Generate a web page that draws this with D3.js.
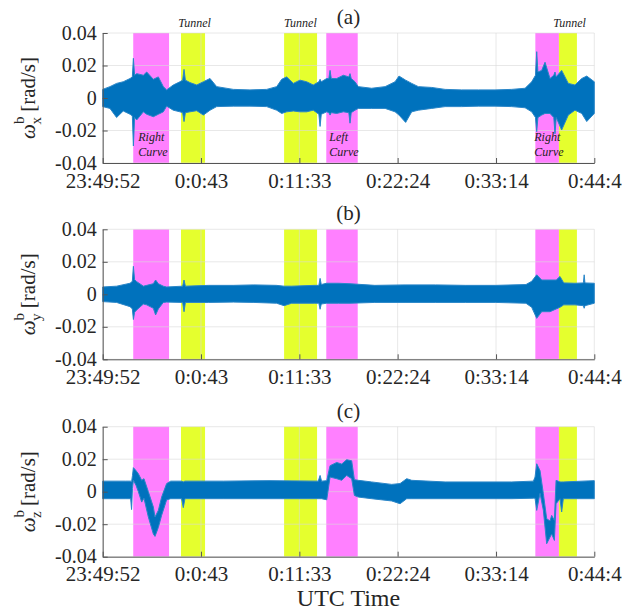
<!DOCTYPE html>
<html>
<head>
<meta charset="utf-8">
<script src="https://cdn.jsdelivr.net/npm/d3@7"></script>
<style>
  body { margin: 0; background: #fff; }
  svg text { font-family: "Liberation Serif", "DejaVu Serif", "Times New Roman", serif !important; }
</style>
</head>
<body>
<svg></svg>
<script>
// time axis, seconds since 23:49:52
const tickTimes = [0, 650, 1301, 1951, 2602, 3252];
const tickLabels = ["23:49:52", "0:0:43", "0:11:33", "0:22:24", "0:33:14", "0:44:4"];
const yTicks = [-0.04, -0.02, 0, 0.02, 0.04];
const yTickLabels = ["-0.04", "-0.02", "0", "0.02", "0.04"];

// shaded events [start, end] in seconds
const curveBands = [[202, 439], [1479, 1687], [2862, 3018]];
const tunnelBands = [[518, 677], [1200, 1418], [3018, 3137]];
const tunnelLabelTimes = [608, 1308, 3088];
const curveLabels = [["Right", "Curve", 235], ["Left", "Curve", 1499], ["Right", "Curve", 2855]];

// envelope of the gyro signal, rad/s
const timeA = [0, 48, 92, 136, 181, 196, 203, 211, 225, 269, 291, 335, 368, 401, 423, 467, 511, 529, 538, 547, 577, 622, 666, 710, 754, 864, 974, 1085, 1151, 1184, 1217, 1261, 1305, 1349, 1393, 1430, 1438, 1446, 1482, 1496, 1504, 1512, 1548, 1592, 1628, 1636, 1644, 1669, 1691, 1779, 1868, 1934, 1960, 2004, 2044, 2088, 2176, 2265, 2375, 2485, 2595, 2706, 2794, 2838, 2863, 2871, 2879, 2904, 2926, 2959, 2984, 2992, 3000, 3036, 3080, 3124, 3169, 3202, 3252];
const upperA = [0.0053, 0.007, 0.009, 0.010, 0.012, 0.013, 0.0244, 0.014, 0.015, 0.014, 0.016, 0.0115, 0.013, 0.007, 0.005, 0.008, 0.010, 0.011, 0.0176, 0.011, 0.0095, 0.008, 0.010, 0.012, 0.007, 0.0053, 0.005, 0.0053, 0.007, 0.0115, 0.013, 0.009, 0.011, 0.010, 0.008, 0.010, 0.0115, 0.010, 0.012, 0.012, 0.017, 0.012, 0.012, 0.014, 0.013, 0.015, 0.012, 0.010, 0.007, 0.006, 0.007, 0.010, 0.0135, 0.011, 0.009, 0.007, 0.0065, 0.0053, 0.005, 0.005, 0.005, 0.0053, 0.006, 0.010, 0.014, 0.0285, 0.016, 0.017, 0.022, 0.012, 0.014, 0.016, 0.013, 0.017, 0.009, 0.008, 0.012, 0.0135, 0.010];
const lowerA = [-0.0053, -0.0064, -0.012, -0.008, -0.010, -0.011, -0.0295, -0.012, -0.0135, -0.0085, -0.010, -0.0115, -0.010, -0.0085, -0.005, -0.0075, -0.0085, -0.009, -0.0145, -0.009, -0.0085, -0.0078, -0.0105, -0.0075, -0.0053, -0.005, -0.005, -0.0053, -0.0075, -0.0095, -0.0085, -0.008, -0.0085, -0.0085, -0.0075, -0.010, -0.0175, -0.010, -0.0085, -0.009, -0.0105, -0.009, -0.0095, -0.0085, -0.009, -0.0155, -0.009, -0.0075, -0.0064, -0.0064, -0.0064, -0.0085, -0.0105, -0.015, -0.0085, -0.0075, -0.0064, -0.0053, -0.0053, -0.005, -0.005, -0.0053, -0.006, -0.0085, -0.012, -0.0207, -0.012, -0.0105, -0.0095, -0.0095, -0.012, -0.022, -0.012, -0.0197, -0.0105, -0.0075, -0.0095, -0.0145, -0.0095];

const timeB = [0, 92, 181, 196, 203, 211, 225, 269, 291, 335, 350, 368, 401, 423, 529, 538, 547, 700, 864, 1000, 1150, 1200, 1250, 1400, 1430, 1438, 1446, 1480, 1560, 1636, 1800, 2000, 2200, 2400, 2600, 2800, 2838, 2871, 2904, 2959, 3000, 3025, 3050, 3124, 3180, 3185, 3190, 3252];
const upperB = [0.0045, 0.005, 0.0068, 0.008, 0.0172, 0.009, 0.0078, 0.005, 0.0055, 0.0065, 0.0088, 0.0065, 0.005, 0.0045, 0.005, 0.0088, 0.005, 0.0055, 0.0055, 0.0058, 0.0055, 0.005, 0.005, 0.0055, 0.0055, 0.0098, 0.006, 0.0068, 0.0068, 0.0065, 0.0055, 0.0058, 0.0058, 0.0055, 0.0055, 0.006, 0.008, 0.012, 0.0088, 0.0088, 0.0088, 0.011, 0.007, 0.0068, 0.007, 0.012, 0.007, 0.0068];
const lowerB = [-0.0045, -0.005, -0.0076, -0.009, -0.0155, -0.011, -0.0096, -0.006, -0.0065, -0.0086, -0.0127, -0.009, -0.005, -0.0048, -0.005, -0.0107, -0.005, -0.005, -0.0048, -0.005, -0.0055, -0.007, -0.0055, -0.0055, -0.0055, -0.0092, -0.006, -0.0055, -0.0055, -0.0055, -0.005, -0.005, -0.005, -0.005, -0.005, -0.0055, -0.008, -0.0148, -0.0107, -0.0107, -0.009, -0.008, -0.0065, -0.0065, -0.007, -0.0086, -0.007, -0.0055];

const timeC = [0, 150, 185, 191, 197, 203, 220, 236, 258, 273, 302, 335, 346, 368, 390, 423, 450, 522, 533, 544, 800, 1100, 1426, 1438, 1448, 1482, 1504, 1548, 1581, 1614, 1647, 1665, 1691, 1779, 1912, 1967, 2011, 2044, 2265, 2706, 2849, 2860, 2871, 2893, 2915, 2937, 2959, 2970, 2988, 2999, 3025, 3036, 3047, 3252];
const upperC = [0.0065, 0.0065, 0.0065, 0.006, 0.010, 0.0148, 0.013, 0.011, 0.007, 0.008, 0.000, -0.0094, -0.0156, -0.0115, -0.0033, 0.005, 0.0065, 0.0065, 0.006, 0.0065, 0.0065, 0.0068, 0.0065, 0.010, 0.0065, 0.0068, 0.016, 0.018, 0.017, 0.0197, 0.019, 0.0074, 0.007, 0.006, 0.0045, 0.005, 0.008, 0.007, 0.006, 0.006, 0.0065, 0.009, 0.0172, 0.013, -0.0012, -0.0166, -0.018, -0.0146, -0.0176, 0.007, 0.006, 0.006, 0.006, 0.0068];
const lowerC = [-0.0043, -0.0043, -0.0043, -0.011, 0.002, 0.007, 0.004, 0.000, -0.0064, -0.004, -0.0156, -0.026, -0.0275, -0.022, -0.0145, -0.005, -0.0043, -0.0043, -0.0098, -0.0043, -0.0043, -0.0043, -0.0043, -0.0043, -0.0043, -0.005, 0.009, 0.008, 0.007, 0.010, 0.008, -0.0023, -0.0033, -0.0043, -0.0057, -0.0074, -0.0043, -0.0043, -0.0043, -0.0043, -0.004, -0.004, -0.0115, -0.001, -0.0115, -0.032, -0.028, -0.026, -0.030, -0.0074, -0.0043, -0.0125, -0.0043, -0.0043];

const panels = [
  { title: "(a)", sub: "x", top: 33, t: timeA, hi: upperA, lo: lowerA, labels: true },
  { title: "(b)", sub: "y", top: 229.3, t: timeB, hi: upperB, lo: lowerB, labels: false },
  { title: "(c)", sub: "z", top: 426.7, t: timeC, hi: upperC, lo: lowerC, labels: false }
];

const width = 622, height = 614;
const plotH = 130;
const serif = '"Liberation Serif", "DejaVu Serif", serif';
const svg = d3.select('svg').attr('width', width).attr('height', height);

const x = d3.scaleLinear().domain([0, 3252]).range([102.7, 594.3]);

panels.forEach(p => {
  const y = d3.scaleLinear().domain([-0.04, 0.04]).range([p.top + plotH, p.top]);
  const g = svg.append('g').style('font-family', serif);

  g.selectAll('rect.curve').data(curveBands).enter().append('rect')
    .attr('x', d => x(d[0])).attr('width', d => x(d[1]) - x(d[0]))
    .attr('y', p.top).attr('height', plotH)
    .attr('fill', '#ff80ff');
  g.selectAll('rect.tunnel').data(tunnelBands).enter().append('rect')
    .attr('x', d => x(d[0])).attr('width', d => x(d[1]) - x(d[0]))
    .attr('y', p.top).attr('height', plotH)
    .attr('fill', '#e5ff2e');

  // grid
  g.selectAll('line.gx').data(tickTimes).enter().append('line')
    .attr('x1', d => x(d)).attr('x2', d => x(d))
    .attr('y1', p.top).attr('y2', p.top + plotH)
    .attr('stroke', '#d8d8d8').attr('stroke-opacity', 0.6);
  g.selectAll('line.gy').data(yTicks).enter().append('line')
    .attr('x1', x(0)).attr('x2', x(3252))
    .attr('y1', d => y(d)).attr('y2', d => y(d))
    .attr('stroke', '#d8d8d8').attr('stroke-opacity', 0.6);

  if (p.labels) {
    curveLabels.forEach(c => {
      const t = g.append('text')
        .attr('x', x(c[2])).attr('y', p.top + 108)
        .attr('font-size', 12).attr('font-style', 'italic').attr('fill', '#222');
      t.append('tspan').text(c[0]);
      t.append('tspan').attr('x', x(c[2])).attr('dy', 15).text(c[1]);
    });
  }

  const rows = p.t.map((t, i) => [t, p.hi[i], p.lo[i]]);
  g.append('path')
    .datum(rows)
    .attr('d', d3.area().x(d => x(d[0])).y0(d => y(d[2])).y1(d => y(d[1])))
    .attr('fill', '#0072bd')
    .attr('stroke', '#2a86c8').attr('stroke-width', 1).attr('stroke-linejoin', 'round');

  // axes
  const yAxis = d3.axisLeft(y).tickValues(yTicks).tickFormat((d, i) => yTickLabels[i])
    .tickSizeInner(-5).tickSizeOuter(0).tickPadding(6);
  const ya = g.append('g').attr('transform', `translate(${x(0)},0)`).call(yAxis);
  const xAxis = d3.axisBottom(x).tickValues(tickTimes).tickFormat((d, i) => tickLabels[i])
    .tickSizeInner(-5).tickSizeOuter(0).tickPadding(9);
  const xa = g.append('g').attr('transform', `translate(0,${p.top + plotH})`).call(xAxis);
  [ya, xa].forEach(a => {
    a.attr('font-family', null);
    a.select('.domain').attr('stroke', '#555');
    a.selectAll('.tick line').attr('stroke', '#555');
    a.selectAll('.tick text').attr('fill', '#262626').style('font-family', serif);
  });
  ya.selectAll('.tick text').attr('font-size', 20).attr('dy', '0.3em');
  xa.selectAll('.tick text').attr('font-size', 21).attr('dy', '0.75em');

  // title
  g.append('text').attr('x', (x(0) + x(3252)) / 2).attr('y', p.top - 9)
    .attr('text-anchor', 'middle').attr('font-size', 21).attr('fill', '#262626').text(p.title);

  // y label
  const yl = g.append('text')
    .attr('transform', `translate(35,${p.top + plotH / 2}) rotate(-90)`)
    .attr('text-anchor', 'middle').attr('font-size', 21).attr('fill', '#262626');
  yl.append('tspan').attr('font-style', 'italic').text('ω');
  yl.append('tspan').attr('font-size', 15).attr('dy', -11).text('b');
  yl.append('tspan').attr('font-size', 15).attr('dx', -8).attr('dy', 17).text(p.sub);
  yl.append('tspan').attr('dy', -6).text(' [rad/s]');
});

// tunnel labels above panel (a)
svg.selectAll('text.tunnel').data(tunnelLabelTimes).enter().append('text')
  .attr('x', d => x(d)).attr('y', 27)
  .attr('text-anchor', 'middle').attr('font-size', 12).attr('font-style', 'italic')
  .attr('fill', '#222').style('font-family', serif).text('Tunnel');

svg.append('text').attr('x', (x(0) + x(3252)) / 2).attr('y', 606)
  .attr('text-anchor', 'middle').attr('font-size', 24).attr('fill', '#262626')
  .style('font-family', serif).text('UTC Time');
</script>
</body>
</html>
